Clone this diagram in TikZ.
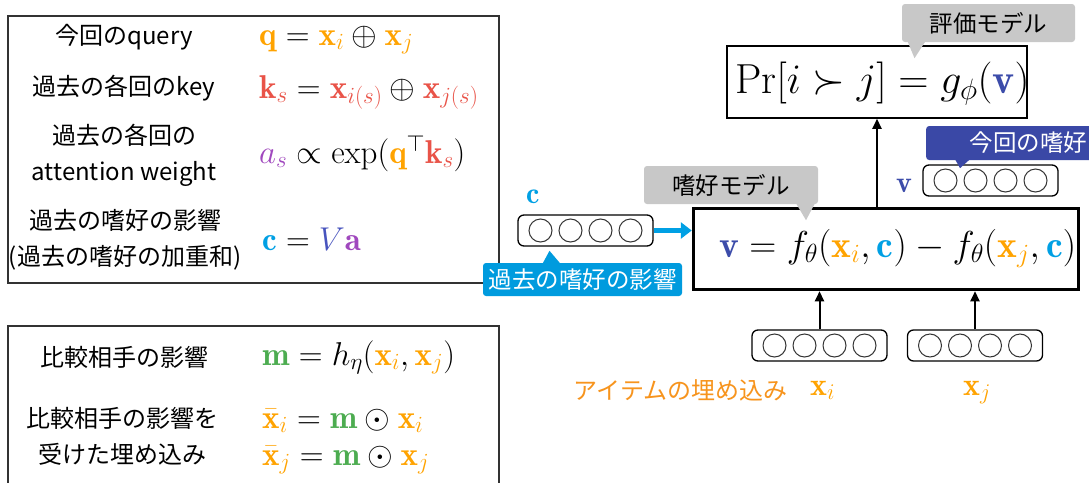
\RequirePackage{fix-cm}
\documentclass[tikz,border=0pt]{standalone}
\usepackage{fontspec}
\newfontfamily\jp{Noto Sans CJK JP}
\usetikzlibrary{arrows.meta}
\definecolor{cOr}{RGB}{255,163,0}
\definecolor{cRed}{RGB}{233,83,72}
\definecolor{cPur}{RGB}{160,72,190}
\definecolor{cCy}{RGB}{0,160,228}
\definecolor{cVb}{RGB}{72,84,190}
\definecolor{cGr}{RGB}{76,172,80}
\definecolor{cVv}{RGB}{60,76,170}
\definecolor{cBlueCall}{RGB}{58,72,166}
\definecolor{cCyCall}{RGB}{0,155,222}
\definecolor{cGrayCall}{RGB}{200,200,200}
\definecolor{cLbl}{RGB}{247,148,29}
\definecolor{cFrame}{RGB}{50,50,50}
\newcommand{\bo}[2]{\textcolor{#1}{\mathbf{#2}}}
\newcommand{\vecbox}[3]{%
  \node[vbox] (#1) at (#2,#3) {};
  \foreach \dx in {-45,-15,15,45} {\draw[vcirc] ({#2+\dx},#3) circle (11.5pt);}
}
\tikzset{
  frame/.style={draw=cFrame, line width=1.5pt, inner sep=0pt},
  jtext/.style={font=\jp\fontsize{24}{36}\selectfont, align=center, inner sep=0pt},
  formula/.style={anchor=base west, inner sep=0pt, font=\fontsize{33}{36}\selectfont},
  vbox/.style={draw=black, line width=1.3pt, rounded corners=6pt, minimum width=135pt, minimum height=31pt, inner sep=0pt},
  vcirc/.style={draw=black!80, line width=1pt},
  callbox/.style={rounded corners=3pt, font=\jp\fontsize{23.5}{28}\selectfont, inner sep=0pt},
  arr/.style={-{Triangle[length=10pt,width=9pt]}, line width=2pt},
}
\begin{document}
\begin{tikzpicture}[x=1pt,y=-1pt]
\clip (0,0) rectangle (1089,482);
\fill[white] (0,0) rectangle (1089,482);

% ---- left box 1
\node[frame, minimum width=491pt, minimum height=267pt] (box1) at (253.5,149.5) {};
\node[jtext] (l1) at (124,37) {今回のquery};
\node[formula] (f1) at (259,45) {$\bo{cOr}{q} = \textcolor{cOr}{\mathbf{x}_i} \oplus \textcolor{cOr}{\mathbf{x}_j}$};
\node[jtext] (l2) at (124,88) {過去の各回のkey};
\node[formula] (f2) at (259,98) {$\textcolor{cRed}{\mathbf{k}_s} = \textcolor{cRed}{\mathbf{x}_{i(s)}} \oplus \textcolor{cRed}{\mathbf{x}_{j(s)}}$};
\node[jtext] (l3) at (124,155) {過去の各回の\\attention weight};
\node[formula] (f3) at (259,163) {$\textcolor{cPur}{a_s} \propto \exp(\bo{cOr}{q}^{\top}\textcolor{cRed}{\mathbf{k}_s})$};
\node[jtext] (l4) at (125,239.5) {過去の嗜好の影響\\(過去の嗜好の加重和)};
\node[formula] (f4) at (262,250) {$\bo{cCy}{c} = \textcolor{cVb}{V}\bo{cPur}{a}$};

% ---- left box 2
\node[frame, minimum width=491pt, minimum height=164pt] (box2) at (253.5,408) {};
\node[jtext] (l5) at (124,357) {比較相手の影響};
\node[formula] (f5) at (262,365) {$\bo{cGr}{m} = h_{\eta}(\textcolor{cOr}{\mathbf{x}_i}, \textcolor{cOr}{\mathbf{x}_j})$};
\node[jtext] (l6) at (123,436.5) {比較相手の影響を\\受けた埋め込み};
\node[formula] (f6) at (262,428) {$\textcolor{cOr}{\bar{\mathbf{x}}_i} = \bo{cGr}{m} \odot \textcolor{cOr}{\mathbf{x}_i}$};
\node[formula] (f7) at (262,465) {$\textcolor{cOr}{\bar{\mathbf{x}}_j} = \bo{cGr}{m} \odot \textcolor{cOr}{\mathbf{x}_j}$};

% ---- evaluation model
\node[draw=black, line width=1.5pt, minimum width=300pt, minimum height=72pt, inner sep=0pt] (pr) at (877,82) {};
\node[anchor=base west, inner sep=0pt, font=\fontsize{42}{46}\selectfont] (prf) at (735,93) {$\mathrm{Pr}[i \succ j] = g_{\phi}(\bo{cVv}{v})$};
\node[callbox, fill=cGrayCall, minimum width=173pt, minimum height=38pt] (ev) at (988.5,23) {評価モデル};
\fill[cGrayCall] ([xshift=-81pt,yshift=1pt]ev.south) -- ([xshift=-63pt,yshift=1pt]ev.south) -- ([xshift=-74pt,yshift=-16pt]ev.south) -- cycle;

% ---- preference model
\node[draw=black, line width=3.5pt, minimum width=385pt, minimum height=81pt, inner sep=0pt] (main) at (886,249) {};
\node[anchor=base west, inner sep=0pt, font=\fontsize{37.5}{42}\selectfont] (mf) at (719,257) {$\bo{cVv}{v} = f_{\theta}(\textcolor{cOr}{\mathbf{x}_i}, \bo{cCy}{c}) - f_{\theta}(\textcolor{cOr}{\mathbf{x}_j}, \bo{cCy}{c})$};
\node[callbox, fill=cGrayCall, minimum width=174pt, minimum height=38pt] (pm) at (731,185) {嗜好モデル};
\fill[cGrayCall] ([xshift=65pt,yshift=1pt]pm.south) -- ([xshift=84pt,yshift=1pt]pm.south) -- ([xshift=75pt,yshift=-16pt]pm.south) -- cycle;

% ---- vectors
\vecbox{cv}{585.5}{230.5}
\vecbox{vv}{990.5}{180.5}
\vecbox{xi}{819.5}{345.5}
\vecbox{xj}{975}{345.5}

\node[anchor=base west, inner sep=0pt, font=\fontsize{30}{34}\selectfont] (clab) at (526,203) {$\bo{cCy}{c}$};
\node[anchor=base west, inner sep=0pt, font=\fontsize{30}{34}\selectfont] (vlab) at (896,192) {$\bo{cVv}{v}$};
\node[anchor=base west, inner sep=0pt, font=\fontsize{32}{36}\selectfont] (xilab) at (810,395) {$\textcolor{cOr}{\mathbf{x}_i}$};
\node[anchor=base west, inner sep=0pt, font=\fontsize{32}{36}\selectfont] (xjlab) at (963,395) {$\textcolor{cOr}{\mathbf{x}_j}$};
\node[inner sep=0pt, text=cLbl, font=\jp\fontsize{24}{28}\selectfont] (emb) at (680.5,390) {アイテムの埋め込み};

% ---- blue callouts
\node[callbox, fill=cCyCall, text=white, minimum width=199pt, minimum height=33pt] (pastc) at (582.5,279.5) {過去の嗜好の影響};
\fill[cCyCall] ([xshift=-40pt,yshift=-1pt]pastc.north) -- ([xshift=-22pt,yshift=-1pt]pastc.north) -- ([xshift=-33pt,yshift=12pt]pastc.north) -- cycle;
\node[callbox, fill=cBlueCall, text=white, anchor=west, minimum height=34pt, inner xsep=0pt, minimum width=170pt, text width=165pt, align=left] (curc) at (926,143) {\hspace*{41pt}今回の嗜好};
\fill[cBlueCall] ([xshift=29pt,yshift=1pt]curc.south west) -- ([xshift=44pt,yshift=1pt]curc.south west) -- ([xshift=34pt,yshift=-8pt]curc.south west) -- cycle;

% ---- connectors
\draw[arr] (pr.south |- main.north) -- (pr.south);
\draw[arr] (xi.north) -- (xi.north |- main.south);
\draw[arr] (xj.north) -- (xj.north |- main.south);
\draw[-{Triangle[length=11pt,width=16pt]}, line width=5pt, cCy] (cv.east) -- (cv.east -| main.west);
\end{tikzpicture}
\end{document}
